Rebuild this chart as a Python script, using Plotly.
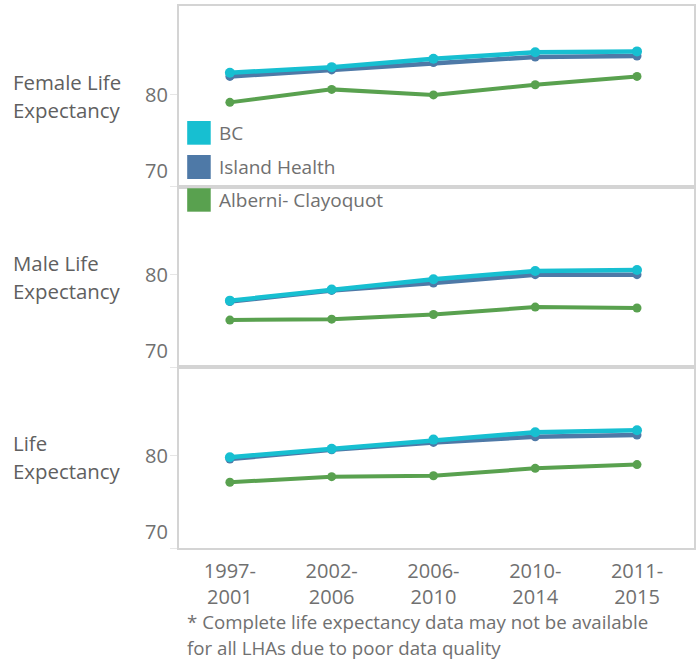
import plotly.graph_objects as go
from plotly.subplots import make_subplots

periods = ["1997-2001", "2002-2006", "2006-2010", "2010-2014", "2011-2015"]
series_names = ["BC", "Island Health", "Alberni- Clayoquot"]
row_labels = [["Female Life", "Expectancy"], ["Male Life", "Expectancy"], ["Life", "Expectancy"]]

female_bc = [82.3, 82.9, 83.8, 84.5, 84.6]
female_island = [81.9, 82.6, 83.4, 84.0, 84.1]
female_alberni = [79.1, 80.5, 79.9, 81.0, 81.9]

male_bc = [77.2, 78.4, 79.5, 80.4, 80.5]
male_island = [77.1, 78.3, 79.1, 80.0, 80.0]
male_alberni = [75.1, 75.2, 75.7, 76.5, 76.4]

total_bc = [79.8, 80.7, 81.7, 82.5, 82.7]
total_island = [79.6, 80.6, 81.4, 82.0, 82.2]
total_alberni = [77.1, 77.7, 77.8, 78.6, 79.0]

y_ticks = [70, 80]
footnote = ["* Complete life expectancy data may not be available",
            "for all LHAs due to poor data quality"]

colors = {"BC": "#17bfd1", "Island Health": "#4e79a7", "Alberni- Clayoquot": "#59a14f"}
FONT = "Open Sans"
TXT = "#707070"
BORDER = "#d4d4d4"

panels = [
    {"BC": female_bc, "Island Health": female_island, "Alberni- Clayoquot": female_alberni},
    {"BC": male_bc, "Island Health": male_island, "Alberni- Clayoquot": male_alberni},
    {"BC": total_bc, "Island Health": total_island, "Alberni- Clayoquot": total_alberni},
]

fig = make_subplots(rows=3, cols=1, shared_xaxes=True, vertical_spacing=0)

draw_order = ["Alberni- Clayoquot", "Island Health", "BC"]
for r, panel in enumerate(panels, start=1):
    for name in draw_order:
        fig.add_trace(go.Scatter(
            x=periods, y=panel[name], mode="lines+markers", name=name,
            line=dict(color=colors[name], width=4.5 if name != "Alberni- Clayoquot" else 4),
            marker=dict(color=colors[name], size=10 if name == "BC" else 9),
            showlegend=False, hoverinfo="skip"), row=r, col=1)
    fig.update_yaxes(range=[70, 89.5], tickvals=y_ticks, showticklabels=False,
                     ticks="outside", ticklen=7, tickcolor="#e6e6e6",
                     showline=True, mirror=True, linecolor=BORDER, linewidth=1.5,
                     showgrid=False, zeroline=False, row=r, col=1)
    fig.update_xaxes(range=[-0.5, 4.56], showline=True, mirror=True, linecolor=BORDER,
                     linewidth=1.5, showgrid=False, zeroline=False, ticks="",
                     showticklabels=(r == 3), row=r, col=1)

fig.update_xaxes(tickvals=periods, ticktext=[p.replace("-", "-<br>") for p in periods],
                 tickfont=dict(family=FONT, size=20, color=TXT), ticklabelstandoff=4,
                 row=3, col=1)

annotations = []
yrefs = ["y", "y2", "y3"]
for i, yr in enumerate(yrefs):
    for t in y_ticks:
        annotations.append(dict(x=0, xref="paper", xanchor="right", xshift=-9,
                                y=t, yref=yr, yanchor="middle" if t == 80 else "bottom",
                                yshift=0 if t == 80 else 1,
                                text=str(t), showarrow=False,
                                font=dict(family=FONT, size=20, color=TXT)))
    for j, line in enumerate(row_labels[i]):
        annotations.append(dict(x=-0.3195, xref="paper", xanchor="left", xshift=-3,
                                y=80, yref=yr, yanchor="middle", yshift=14 - 28 * j - 2,
                                text=line, showarrow=False,
                                font=dict(family=FONT, size=20.4, color="#606060")))

for j, line in enumerate(footnote):
    annotations.append(dict(x=0.0184, xref="paper", xanchor="left", xshift=-3,
                            y=[-0.1328, -0.1808][j], yref="paper", yanchor="middle",
                            yshift=-2,
                            text=line, showarrow=False,
                            font=dict(family=FONT, size=18.7, color=TXT)))

# legend drawn as squares + text
leg_y = [(0.7878, 0.7441, 0.7657), (0.7251, 0.6808, 0.7030), (0.6637, 0.6205, 0.6421)]
shapes = []
for name, (y0, y1, yc) in zip(series_names, leg_y):
    shapes.append(dict(type="rect", xref="paper", yref="paper", x0=0.0159, x1=0.0616,
                       y0=y1, y1=y0, fillcolor=colors[name], line=dict(width=0)))
    annotations.append(dict(x=0.0784, xref="paper", xanchor="left", xshift=-2,
                            y=yc, yref="paper",
                            yanchor="middle", text=name, showarrow=False,
                            font=dict(family=FONT, size=19, color=TXT)))

fig.update_layout(width=699, height=659, margin=dict(l=179, r=3, t=6, b=111),
                  paper_bgcolor="white", plot_bgcolor="white",
                  annotations=annotations, shapes=shapes, showlegend=False)

fig.write_html("out.html", config={"displayModeBar": False},
               post_script="document.body.style.margin='0';document.body.style.overflow='hidden';")
